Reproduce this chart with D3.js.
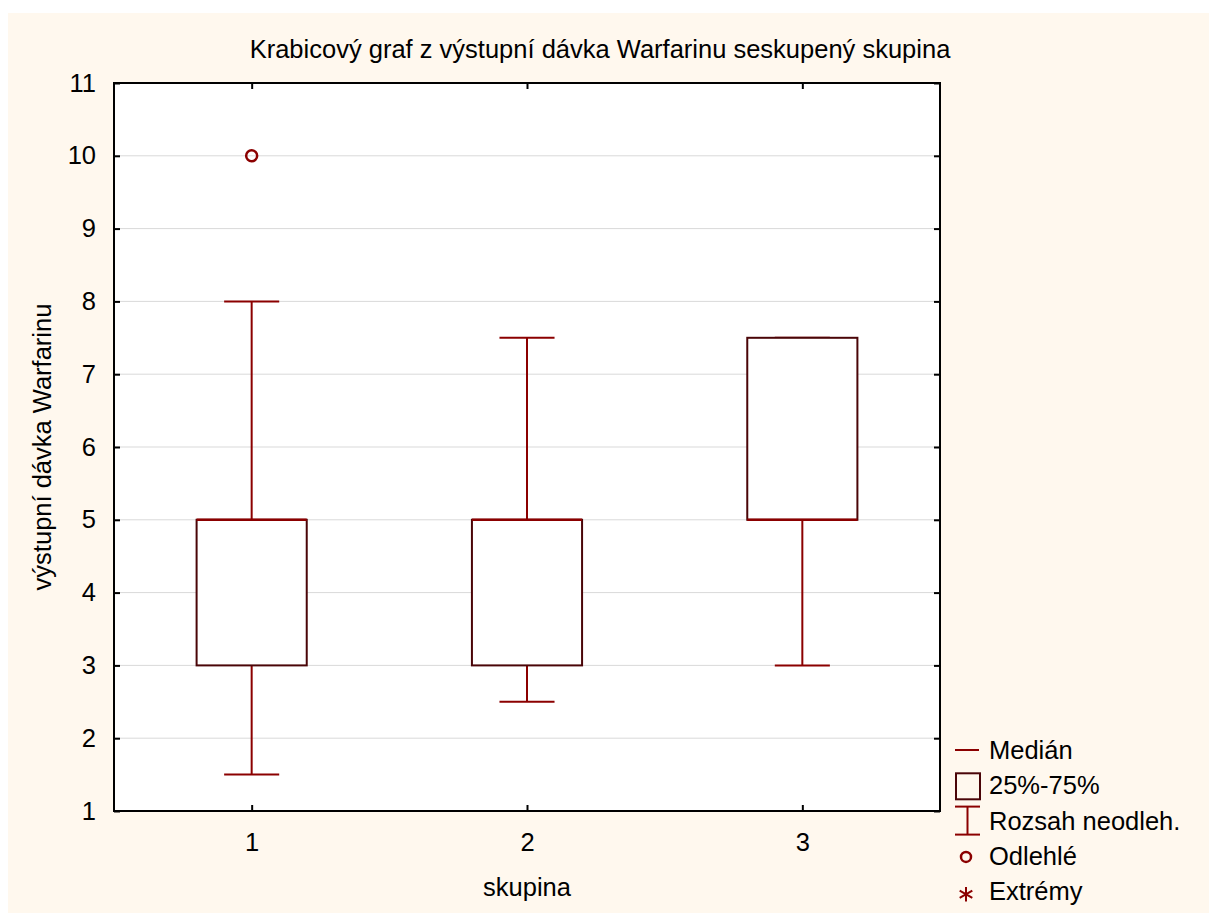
<!DOCTYPE html>
<html>
<head>
<meta charset="utf-8">
<script src="https://cdn.jsdelivr.net/npm/d3@7"></script>
<style>
  body { margin: 0; background: #fff; overflow: hidden; }
  svg { display: block; font-family: "Liberation Sans", Arial, sans-serif; }
</style>
</head>
<body>
<div id="chart"></div>
<script>
// data
const groups = [1, 2, 3];
const q1 = [3, 3, 5];
const medians = [5, 5, 5];
const q3 = [5, 5, 7.5];
const whiskerLow = [1.5, 2.5, 3];
const whiskerHigh = [8, 7.5, 7.5];
const outliers = [{ group: 1, value: 10 }];
const yTicks = [1, 2, 3, 4, 5, 6, 7, 8, 9, 10, 11];
const legendItems = ["Medián", "25%-75%", "Rozsah neodleh.", "Odlehlé", "Extrémy"];

const width = 1209, height = 913;
const margin = { left: 114, right: 269, top: 83, bottom: 102 };
const innerWidth = width - margin.left - margin.right;
const innerHeight = height - margin.top - margin.bottom;
const fontSize = "25.5px";

const red = "#8b0000";
const boxDark = "#4a0508";

const svg = d3.select("#chart").append("svg")
    .attr("width", width)
    .attr("height", height);

// cream panel
svg.append("rect")
    .attr("x", 8).attr("y", 13)
    .attr("width", width - 8).attr("height", height - 13)
    .attr("fill", "#fff8ee");

const g = svg.append("g")
    .attr("transform", `translate(${margin.left}, ${margin.top})`);

const xScale = d3.scaleLinear().domain([0.5, 3.5]).range([0, innerWidth]);
const yScale = d3.scaleLinear().domain([1, 11]).range([innerHeight, 0]);

g.append("rect")
    .attr("width", innerWidth).attr("height", innerHeight)
    .attr("fill", "#fff");

// gridlines
g.selectAll(".grid")
    .data(yTicks.slice(1, -1))
    .enter().append("line")
    .attr("x1", 0).attr("x2", innerWidth)
    .attr("y1", d => yScale(d)).attr("y2", d => yScale(d))
    .attr("stroke", "#d9d9d9").attr("stroke-width", 1);

// axes (ticks pointing inward)
const styleAxis = sel => {
    sel.attr("font-size", null).attr("font-family", null);
    sel.select(".domain").remove();
    sel.selectAll("line").attr("stroke", "#000").attr("stroke-width", 2);
    sel.selectAll("text").attr("fill", "#000").style("font-size", fontSize);
};

g.append("g")
    .call(d3.axisLeft(yScale).tickValues(yTicks).tickSize(-6).tickPadding(18).tickFormat(d3.format("d")))
    .call(styleAxis);
g.append("g")
    .attr("transform", `translate(${innerWidth}, 0)`)
    .call(d3.axisRight(yScale).tickValues(yTicks).tickSize(-6).tickFormat(""))
    .call(styleAxis);
g.append("g")
    .attr("transform", `translate(0, ${innerHeight})`)
    .call(d3.axisBottom(xScale).tickValues(groups).tickSize(-6).tickPadding(22).tickFormat(d3.format("d")))
    .call(styleAxis);
g.append("g")
    .call(d3.axisTop(xScale).tickValues(groups).tickSize(-6).tickFormat(""))
    .call(styleAxis);

const boxHalf = xScale(1.2) - xScale(1);
const capHalf = xScale(1.1) - xScale(1);

const boxes = g.selectAll(".box")
    .data(groups)
    .enter().append("g")
    .attr("class", "box");

boxes.append("line")
    .attr("x1", d => xScale(d)).attr("x2", d => xScale(d))
    .attr("y1", (d, i) => yScale(whiskerLow[i])).attr("y2", (d, i) => yScale(whiskerHigh[i]))
    .attr("stroke", red).attr("stroke-width", 2);
boxes.append("line")
    .attr("x1", d => xScale(d) - capHalf).attr("x2", d => xScale(d) + capHalf)
    .attr("y1", (d, i) => yScale(whiskerLow[i])).attr("y2", (d, i) => yScale(whiskerLow[i]))
    .attr("stroke", red).attr("stroke-width", 2);
boxes.append("line")
    .attr("x1", d => xScale(d) - capHalf).attr("x2", d => xScale(d) + capHalf)
    .attr("y1", (d, i) => yScale(whiskerHigh[i])).attr("y2", (d, i) => yScale(whiskerHigh[i]))
    .attr("stroke", red).attr("stroke-width", 2);
boxes.append("rect")
    .attr("x", d => xScale(d) - boxHalf)
    .attr("y", (d, i) => yScale(q3[i]))
    .attr("width", boxHalf * 2)
    .attr("height", (d, i) => yScale(q1[i]) - yScale(q3[i]))
    .attr("fill", "#fff").attr("stroke", boxDark).attr("stroke-width", 2);
boxes.append("line")
    .attr("x1", d => xScale(d) - boxHalf).attr("x2", d => xScale(d) + boxHalf)
    .attr("y1", (d, i) => yScale(medians[i])).attr("y2", (d, i) => yScale(medians[i]))
    .attr("stroke", red).attr("stroke-width", 2.5);

g.selectAll(".outlier")
    .data(outliers)
    .enter().append("circle")
    .attr("cx", d => xScale(d.group)).attr("cy", d => yScale(d.value))
    .attr("r", 5.5).attr("fill", "none").attr("stroke", red).attr("stroke-width", 2.5);

// frame
g.append("rect")
    .attr("width", innerWidth).attr("height", innerHeight)
    .attr("fill", "none").attr("stroke", "#000").attr("stroke-width", 2);

// titles
svg.append("text")
    .text("Krabicový graf z výstupní dávka Warfarinu seskupený skupina")
    .attr("x", 600).attr("y", 58)
    .style("font-size", fontSize).style("text-anchor", "middle");
svg.append("text")
    .text("skupina")
    .attr("x", xScale(2) + margin.left).attr("y", 896)
    .style("font-size", fontSize).style("text-anchor", "middle");
svg.append("text")
    .text("výstupní dávka Warfarinu")
    .attr("transform", `translate(51, ${margin.top + innerHeight / 2}) rotate(-90)`)
    .style("font-size", fontSize).style("text-anchor", "middle");

// legend
const legend = svg.append("g").attr("transform", "translate(955, 750)");
const rows = legend.selectAll(".legend-item")
    .data(legendItems)
    .enter().append("g")
    .attr("transform", (d, i) => `translate(0, ${i * 35.3})`);

rows.append("text")
    .attr("x", 34).attr("y", 9)
    .style("font-size", fontSize)
    .text(d => d);

rows.each(function (d, i) {
    const r = d3.select(this);
    if (i === 0) {
        r.append("line").attr("x1", 0).attr("x2", 24).attr("y1", 0).attr("y2", 0)
            .attr("stroke", red).attr("stroke-width", 2);
    } else if (i === 1) {
        r.append("rect").attr("x", 1).attr("y", -12).attr("width", 24).attr("height", 26)
            .attr("fill", "none").attr("stroke", boxDark).attr("stroke-width", 2);
    } else if (i === 2) {
        r.append("line").attr("x1", 0).attr("x2", 25).attr("y1", -14).attr("y2", -14).attr("stroke", red).attr("stroke-width", 2);
        r.append("line").attr("x1", 0).attr("x2", 25).attr("y1", 14).attr("y2", 14).attr("stroke", red).attr("stroke-width", 2);
        r.append("line").attr("x1", 12.5).attr("x2", 12.5).attr("y1", -14).attr("y2", 14).attr("stroke", red).attr("stroke-width", 2);
    } else if (i === 3) {
        r.append("circle").attr("cx", 11).attr("cy", 1).attr("r", 5)
            .attr("fill", "none").attr("stroke", red).attr("stroke-width", 2.5);
    } else {
        r.append("path").attr("d", d3.symbol(d3.symbolAsterisk, 150)())
            .attr("transform", "translate(11, 3)")
            .attr("fill", "none").attr("stroke", red).attr("stroke-width", 2);
    }
});
</script>
</body>
</html>
